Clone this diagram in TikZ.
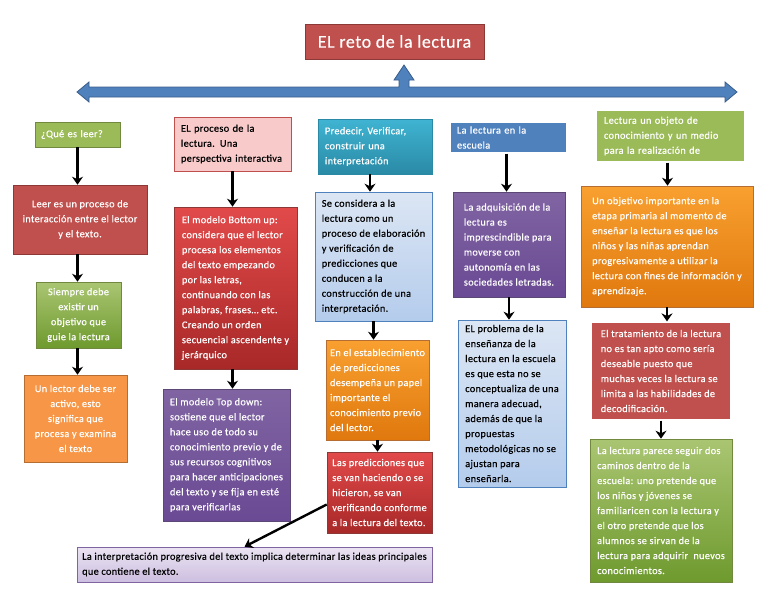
\documentclass[tikz,border=0pt]{standalone}
\usepackage{fontspec}
\setmainfont{Carlito}[LetterSpace=3,FakeBold=0.4]
\usetikzlibrary{arrows.meta,calc}
\definecolor{rojo}{HTML}{C0504D}
\definecolor{rojob}{HTML}{8C3836}
\definecolor{rojoc}{HTML}{E24A4A}
\definecolor{rojod}{HTML}{A82828}
\definecolor{verde}{HTML}{9BBB59}
\definecolor{verdeb}{HTML}{71893F}
\definecolor{verdec}{HTML}{6E9A2E}
\definecolor{naranja}{HTML}{F79646}
\definecolor{naranjab}{HTML}{B66D31}
\definecolor{naranjac}{HTML}{F8A030}
\definecolor{naranjad}{HTML}{E0780E}
\definecolor{morado}{HTML}{8064A2}
\definecolor{moradob}{HTML}{5C4776}
\definecolor{moradoc}{HTML}{6A4A94}
\definecolor{azul}{HTML}{4F81BD}
\definecolor{azulb}{HTML}{385D8A}
\definecolor{celeste}{HTML}{DCE6F4}
\definecolor{celested}{HTML}{B4CCEC}
\definecolor{turq}{HTML}{3FB4D2}
\definecolor{turqd}{HTML}{2A8AA6}
\definecolor{rosa}{HTML}{F8CACA}
\definecolor{lila}{HTML}{EAE3F2}
\definecolor{lilad}{HTML}{CDBFE0}
\tikzset{
  caja/.style={rectangle,line width=0.6pt,inner xsep=4pt,inner ysep=2pt,align=left,text=white,
    font=\fontsize{10.3}{15}\selectfont},
  centro/.style={align=center},
  cRoja/.style={fill=rojo,draw=rojob},
  cRojaG/.style={top color=rojoc,bottom color=rojod,draw=rojob},
  cVerde/.style={fill=verde,draw=verdeb},
  cVerdeG/.style={top color=verde!85!white,bottom color=verdec,draw=verdeb},
  cNaranja/.style={fill=naranja,draw=naranjab},
  cNaranjaG/.style={top color=naranjac,bottom color=naranjad,draw=naranjab},
  cMorado/.style={top color=morado,bottom color=moradoc,draw=moradob},
  cAzul/.style={fill=azul,draw=white,line width=1.2pt},
  cTurq/.style={top color=turq,bottom color=turqd,draw=turqd},
  cCeleste/.style={top color=celeste,bottom color=celested,draw=azul,text=black},
  cRosa/.style={fill=rosa,draw=rojo,text=black},
  cLila/.style={top color=lila,bottom color=lilad,draw=morado,text=black},
  titulo/.style={rectangle,fill=rojo,draw=rojob,line width=0.8pt,text=white,
    font=\fontsize{18}{20}\selectfont,minimum width=179,minimum height=35},
  bloque/.style={fill=azul,draw=azulb,line width=0.8pt,line join=miter},
  flecha/.style={-{Stealth[length=8pt,width=11pt]},line width=2.4pt,black},
}
\begin{document}
\begin{tikzpicture}[x=1pt,y=-1pt]
  \useasboundingbox (0,0) rectangle (768,594);
  \node[titulo] (tit) at (394.5,41.5) {EL reto de la lectura};
  \draw[bloque] (77,92) -- (89,82) -- (89,87) -- (399,87) -- (399,80) -- (394,80) -- (404,65)
    -- (414,80) -- (409,80) -- (409,87) -- (725,87) -- (725,82) -- (737,92) -- (725,102)
    -- (725,97) -- (89,97) -- (89,102) -- cycle;

  \node[caja,cVerde,minimum width=85,minimum height=25,text width=73] (q1) at (77.5,134.5)
    {¿Qué es leer?};
  \node[caja,cRoja,centro,minimum width=134,minimum height=69] (q2) at (80,219.5)
    {Leer es un proceso de\\interacción entre el lector\\y el texto.};
  \node[caja,cVerdeG,centro,minimum width=85,minimum height=66] (q3) at (78.5,315)
    {Siempre debe\\existir un\\objetivo que\\guie la lectura};
  \node[caja,cNaranja,centro,minimum width=103,minimum height=87] (q4) at (75.5,418.5)
    {Un lector debe ser\\activo, esto\\significa que\\procesa y examina\\el texto};

  \node[caja,cRosa,minimum width=117,minimum height=54,text width=103] (p1) at (232.5,144)
    {EL proceso de la\\lectura. Una\\perspectiva interactiva};
  \node[caja,cRojaG,minimum width=123,minimum height=162] (p2) at (235.5,288)
    {El modelo Bottom up:\\considera que el lector\\procesa los elementos\\del texto empezando\\por las letras,\\continuando con las\\palabras, frases… etc.\\Creando un orden\\secuencial ascendente y\\jerárquico};
  \node[caja,cMorado,minimum width=127,minimum height=132] (p3) at (226.5,455)
    {El modelo Top down:\\sostiene que el lector\\hace uso de todo su\\conocimiento previo y de\\sus recursos cognitivos\\para hacer anticipaciones\\del texto y se fija en esté\\para verificarlas};

  \node[caja,cTurq,minimum width=114,minimum height=55,text width=100] (v1) at (375,146.5)
    {Predecir, Verificar,\\construir una\\interpretación};
  \node[caja,cCeleste,minimum width=117,minimum height=129] (v2) at (373.5,256.5)
    {Se considera a la\\lectura como un\\proceso de elaboración\\y verificación de\\predicciones que\\conducen a la\\construcción de una\\interpretación.};
  \node[caja,cNaranjaG,minimum width=103,minimum height=100] (v3) at (377.5,390)
    {En el establecimiento\\de predicciones\\desempeña un papel\\importante el\\conocimiento previo\\del lector.};
  \node[caja,cRojaG,minimum width=105,minimum height=81] (v4) at (379.5,492.5)
    {Las predicciones que\\se van haciendo o se\\hicieron, se van\\verificando conforme\\a la lectura del texto.};
  \node[caja,cLila,minimum width=355,minimum height=35] (fin) at (254.5,564.5)
    {La interpretación progresiva del texto implica determinar las ideas principales\\que contiene el texto.};

  \node[caja,cAzul,minimum width=117,minimum height=31,text width=103] (e1) at (508.5,137.5)
    {La lectura en la\\escuela};
  \node[caja,cMorado,minimum width=112,minimum height=105] (e2) at (509,244.5)
    {La adquisición de la\\lectura es\\imprescindible para\\moverse con\\autonomía en las\\sociedades letradas.};
  \node[caja,cCeleste,minimum width=108,minimum height=167] (e3) at (512,403.5)
    {EL problema de la\\enseñanza de la\\lectura en la escuela\\es que esta no se\\conceptualiza de una\\manera adecuad,\\además de que la\\propuestas\\metodológicas no se\\ajustan para\\enseñarla.};

  \node[caja,cVerde,draw=white,line width=1.2pt,minimum width=149,minimum height=52,text width=133] (o1) at (670.5,136)
    {Lectura un objeto de\\conocimiento y un medio\\para la realización de};
  \node[caja,cNaranjaG,minimum width=172,minimum height=121] (o2) at (667,246.5)
    {Un objetivo importante en la\\etapa primaria al momento de\\enseñar la lectura es que los\\niños y las niñas aprendan\\progresivamente a utilizar la\\lectura con fines de información y\\aprendizaje.};
  \node[caja,cRoja,draw=white,line width=1.2pt,minimum width=140,minimum height=98] (o3) at (661,371)
    {El tratamiento de la lectura\\no es tan apto como sería\\deseable puesto que\\muchas veces la lectura se\\limita a las habilidades de\\decodificación.};
  \node[caja,cVerdeG,minimum width=142,minimum height=143] (o4) at (661,510.5)
    {La lectura parece seguir dos\\caminos dentro de la\\escuela: uno pretende que\\los niños y jóvenes se\\familiaricen con la lectura y\\el otro pretende que los\\alumnos se sirvan de la\\lectura para adquirir~ nuevos\\conocimientos.};

  \draw[flecha] (q1.south) -- (q2.north -| q1.south);
  \draw[flecha] (q2.south -| q1.south) -- (q3.north -| q1.south);
  \draw[flecha] (q3.south -| q1.south) -- (q4.north -| q1.south);
  \draw[flecha] (p1.south) -- (p2.north -| p1.south);
  \draw[flecha] (p2.south -| p1.south) -- (p3.north -| p1.south);
  \draw[flecha] ([xshift=-5pt]v1.south) -- ([xshift=-5pt]v1.south |- v2.north);
  \draw[flecha] (v2.south) -- (v2.south |- v3.north);
  \draw[flecha] (v3.south) -- (v3.south |- v4.north);
  \draw[flecha] ([yshift=-12pt]v4.west) -- ([xshift=-10pt]fin.north);
  \draw[flecha] ([xshift=-2pt]e1.south) -- ([xshift=-2pt]e1.south |- e2.north);
  \draw[flecha] (e2.south) -- (e2.south |- e3.north);
  \draw[flecha] ([xshift=-3pt]o1.south) -- ([xshift=-3pt]o1.south |- o2.north);
  \draw[flecha] (o2.south) -- (o2.south |- o3.north);
  \draw[flecha] (o3.south) -- (o3.south |- o4.north);
\end{tikzpicture}
\end{document}
